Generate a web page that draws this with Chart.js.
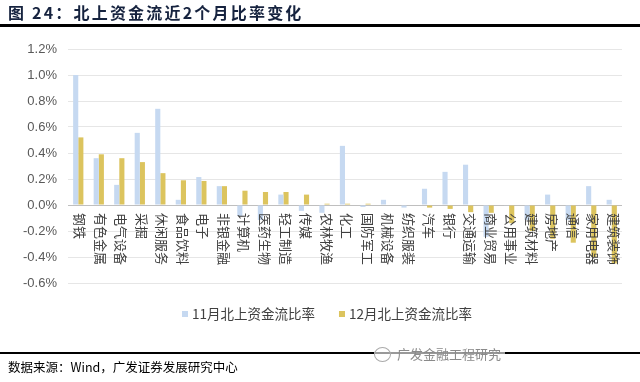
<!DOCTYPE html>
<html><head><meta charset="utf-8">
<script src="https://cdn.jsdelivr.net/npm/chart.js@4/dist/chart.umd.min.js"></script>
<style>
html,body{margin:0;padding:0;background:#fff;width:640px;height:382px;overflow:hidden;}
#wrap{position:relative;width:640px;height:382px;}
canvas{position:absolute;left:0;top:0;}
#title{position:absolute;left:8px;top:1px;font:bold 16px "Noto Sans CJK SC";color:#16233f;letter-spacing:2.2px;line-height:22px;white-space:nowrap;z-index:2;}
#tline{position:absolute;left:0;top:24px;width:640px;height:3px;background:#000;z-index:2;}
#bline{position:absolute;left:0;top:352px;width:640px;height:2px;background:#000;z-index:2;}
#src{position:absolute;left:8px;top:358px;font:12.5px "Noto Sans CJK SC";color:#000;line-height:18px;white-space:nowrap;z-index:2;}
#wm{position:absolute;left:374px;top:344px;height:20px;font:13px "Noto Sans CJK SC";color:#8a8a8a;line-height:20px;white-space:nowrap;z-index:3;background:rgba(255,255,255,0.6);padding-right:4px;}
#wm span.ic{display:inline-block;width:15px;height:13px;border:1.5px solid #aaa;border-radius:50%;vertical-align:-3px;margin-right:6px;}
</style></head>
<body>
<div id="wrap">
<canvas id="c" width="640" height="382"></canvas>
<div id="title">图 24：北上资金流近2个月比率变化</div>
<div id="tline"></div>
<div id="bline"></div>
<div id="src">数据来源：Wind，广发证券发展研究中心</div>
<div id="wm"><span class="ic"></span>广发金融工程研究</div>
</div>
<script>
const categories = ['钢铁','有色金属','电气设备','采掘','休闲服务','食品饮料','电子','非银金融','计算机','医药生物','轻工制造','传媒','农林牧渔','化工','国防军工','机械设备','纺织服装','汽车','银行','交通运输','商业贸易','公用事业','建筑材料','房地产','通信','家用电器','建筑装饰'];
const novRatio = [1.00,0.36,0.155,0.555,0.74,0.04,0.215,0.145,-0.085,-0.115,0.08,-0.045,-0.06,0.455,-0.015,0.04,-0.02,0.125,0.255,0.31,-0.245,-0.005,-0.115,0.08,-0.115,0.145,0.04];
const decRatio = [0.52,0.39,0.36,0.33,0.245,0.19,0.185,0.145,0.11,0.10,0.10,0.08,0.01,0.01,0.01,0.0,0.0,-0.02,-0.03,-0.055,-0.06,-0.14,-0.20,-0.26,-0.29,-0.40,-0.45];
const seriesNames = ['11月北上资金流比率','12月北上资金流比率'];
const yMin = -0.6, yMax = 1.2, yStep = 0.2;

const colors = ['#C6D9F1','#DCC45E'];

const xLabelPlugin = {
  id:'xlabels',
  afterDatasetsDraw(chart){
    const {ctx, scales:{x,y}} = chart;
    const y0 = y.getPixelForValue(0);
    ctx.save();
    ctx.font = '13px "Noto Sans CJK SC"';
    ctx.fillStyle = '#404040';
    ctx.textAlign = 'left';
    ctx.textBaseline = 'middle';
    chart.data.labels.forEach((lab,i)=>{
      const px = x.getPixelForValue(i);
      ctx.save();
      ctx.translate(px+2, y0+8);
      ctx.rotate(Math.PI/2);
      ctx.fillText(lab,0,0);
      ctx.restore();
    });
    ctx.restore();
  }
};

const legendPlugin = {
  id:'customLegend',
  afterDraw(chart){
    const ctx = chart.ctx;
    ctx.save();
    ctx.font = '13.5px "Noto Sans CJK SC"';
    ctx.textBaseline = 'middle';
    ctx.textAlign = 'left';
    let xPos = 182;
    const yc = 314;
    chart.data.datasets.forEach(ds=>{
      ctx.fillStyle = ds.backgroundColor;
      ctx.fillRect(xPos, yc-3, 6, 6);
      ctx.fillStyle = '#404040';
      ctx.fillText(ds.label, xPos+10, yc);
      xPos += 10 + ctx.measureText(ds.label).width + 24;
    });
    ctx.restore();
  }
};

new Chart(document.getElementById('c'), {
  type:'bar',
  data:{
    labels: categories,
    datasets:[
      {label: seriesNames[0], data: novRatio, backgroundColor: colors[0], categoryPercentage:0.5, barPercentage:1.0},
      {label: seriesNames[1], data: decRatio, backgroundColor: colors[1], categoryPercentage:0.5, barPercentage:1.0}
    ]
  },
  options:{
    responsive:false,
    animation:false,
    layout:{padding:{left:0,right:18,top:49,bottom:99}},
    plugins:{legend:{display:false}, tooltip:{enabled:false}},
    scales:{
      x:{display:false},
      y:{
        min:yMin, max:yMax,
        ticks:{stepSize:yStep, padding:11, color:'#595959', font:{family:'Liberation Sans', size:13},
          callback:(v)=>{ const n = Math.abs(v)<1e-9?0:v; return n.toFixed(1)+'%'; }},
        grid:{drawTicks:false, color:(c)=> (c.tick && Math.abs(c.tick.value)<1e-9) ? '#bfbfbf' : '#e6e6e6', lineWidth:1},
        border:{display:false},
        afterFit:(s)=>{ s.width = 68; }
      }
    }
  },
  plugins:[xLabelPlugin, legendPlugin]
});
</script>
</body></html>
